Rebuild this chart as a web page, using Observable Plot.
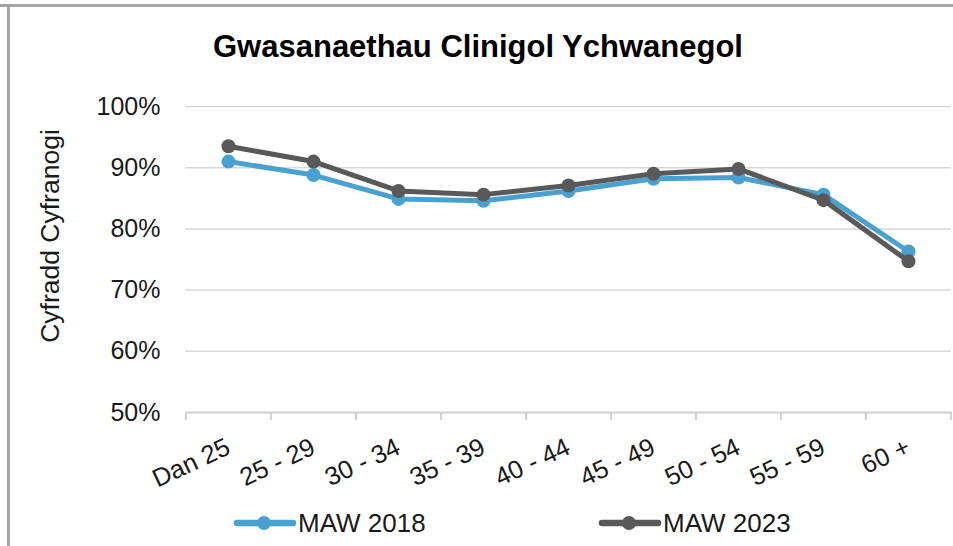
<!DOCTYPE html>
<html><head><meta charset="utf-8">
<script src="https://cdn.jsdelivr.net/npm/d3@7"></script>
<script src="https://cdn.jsdelivr.net/npm/@observablehq/plot@0.6"></script>
<style>
body{margin:0;background:#fff;}
#wrap{position:relative;width:953px;height:546px;overflow:hidden;background:#fff;font-family:"Liberation Sans",Arial,sans-serif;}
#topb{position:absolute;left:0;top:4px;width:953px;height:3px;background:#a6a6a6;}
#leftb{position:absolute;left:7px;top:4px;width:3px;height:542px;background:#a6a6a6;}
#title{position:absolute;left:0;width:956px;top:31px;text-align:center;font-weight:bold;font-size:31px;line-height:1;color:#000;white-space:nowrap;}
#chart{position:absolute;left:0;top:0;}
#legend{position:absolute;left:0;top:0;pointer-events:none;}
</style></head>
<body>
<div id="wrap">
  <div id="topb"></div>
  <div id="leftb"></div>
  <div id="chart"></div>
  <div id="title">Gwasanaethau Clinigol Ychwanegol</div>
  <svg id="legend" width="953" height="546"></svg>
</div>
<script>
const categories = ["Dan 25","25 - 29","30 - 34","35 - 39","40 - 44","45 - 49","50 - 54","55 - 59","60 +"];
const maw2018 = [91.0, 88.8, 84.9, 84.6, 86.2, 88.2, 88.4, 85.6, 76.3];
const maw2023 = [93.5, 91.0, 86.2, 85.6, 87.1, 89.0, 89.8, 84.7, 74.7];
const seriesNames = ["MAW 2018", "MAW 2023"];
const seriesColors = ["#48a1d0", "#595959"];
const yTicks = [50, 60, 70, 80, 90, 100];
const yLabel = "Cyfradd Cyfranogi";

const rows2018 = categories.map((c, i) => ({cat: c, v: maw2018[i], s: seriesNames[0]}));
const rows2023 = categories.map((c, i) => ({cat: c, v: maw2023[i], s: seriesNames[1]}));

const W = 953, H = 546, mL = 185, mR = 2, mT = 106, mB = 134;
const step = (W - mL - mR) / categories.length;
const axisColor = "#cfcfcf";
const font = "'Liberation Sans', Arial, sans-serif";

const chart = Plot.plot({
  width: W, height: H,
  marginLeft: mL, marginRight: mR, marginTop: mT, marginBottom: mB,
  style: {fontFamily: font, fontSize: "25px", color: "#1a1a1a", background: "transparent", overflow: "visible"},
  x: {type: "point", domain: categories, padding: 0.5, align: 0.5},
  y: {domain: [50, 100]},
  color: {domain: seriesNames, range: seriesColors},
  marks: [
    Plot.ruleY(yTicks.filter(t => t > yTicks[0]), {y: d => d, stroke: "#d9d9d9", strokeWidth: 1.5}),
    Plot.ruleY([yTicks[0]], {y: d => d, stroke: axisColor, strokeWidth: 2}),
    Plot.ruleX(categories, {x: d => d, y1: yTicks[0], y2: yTicks[0], insetBottom: -8, dx: -step / 2, stroke: axisColor, strokeWidth: 2}),
    Plot.ruleX(categories.slice(-1), {x: d => d, y1: yTicks[0], y2: yTicks[0], insetBottom: -8, dx: step / 2, stroke: axisColor, strokeWidth: 2}),
    Plot.axisY({ticks: yTicks, tickSize: 0, tickPadding: 25, tickFormat: d => d + "%", label: null, fontSize: 25}),
    Plot.axisX({tickSize: 0, tickPadding: 33, tickRotate: -25, label: null, fontSize: 25.5}),
    Plot.line(rows2018, {x: "cat", y: "v", stroke: "s", strokeWidth: 5}),
    Plot.dot(rows2018, {x: "cat", y: "v", fill: "s", r: 7}),
    Plot.line(rows2023, {x: "cat", y: "v", stroke: "s", strokeWidth: 5}),
    Plot.dot(rows2023, {x: "cat", y: "v", fill: "s", r: 7})
  ]
});
document.getElementById("chart").appendChild(chart);

const overlay = d3.select("#legend");
// Y axis title
overlay.append("text")
  .attr("transform", "translate(50,236) rotate(-90)")
  .attr("text-anchor", "middle").attr("dy", "0.35em")
  .attr("font-size", 26.5).attr("font-family", font).attr("fill", "#1a1a1a")
  .text(yLabel);

// Legend
const legendX = [237, 602];
seriesNames.forEach((name, i) => {
  const g = overlay.append("g").attr("transform", `translate(${legendX[i]},523)`);
  g.append("line").attr("x1", 0).attr("x2", 56).attr("y1", 0).attr("y2", 0)
    .attr("stroke", seriesColors[i]).attr("stroke-width", 6.5).attr("stroke-linecap", "round");
  g.append("circle").attr("cx", 27).attr("cy", 0).attr("r", 7).attr("fill", seriesColors[i]);
  g.append("text").attr("x", 61).attr("y", 9).attr("font-size", 26)
    .attr("font-family", font).attr("fill", "#1a1a1a").text(name);
});
</script>
</body></html>
